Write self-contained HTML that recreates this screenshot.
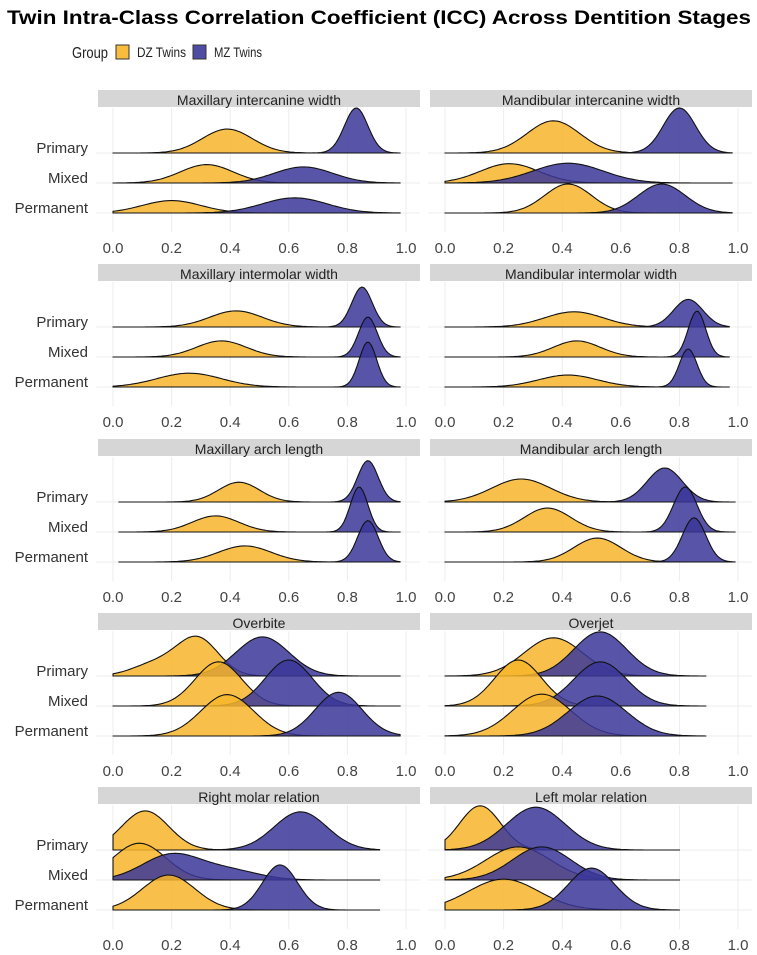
<!DOCTYPE html>
<html><head><meta charset="utf-8"><style>
html,body{margin:0;padding:0;background:#fff;}
svg{display:block;font-family:"Liberation Sans",sans-serif;}
</style></head><body>
<svg id="chart" width="757" height="955" viewBox="0 0 757 955" xmlns="http://www.w3.org/2000/svg">
<text x="379" y="24" text-anchor="middle" font-size="19" font-weight="bold" textLength="744" lengthAdjust="spacingAndGlyphs" fill="#000">Twin Intra-Class Correlation Coefficient (ICC) Across Dentition Stages</text>
<g>
<text x="72" y="58" font-size="16" textLength="36" lengthAdjust="spacingAndGlyphs" fill="#222">Group</text>
<rect x="116" y="45" width="13" height="14" fill="#F9BC3C" stroke="#333" stroke-width="1"/>
<text x="137" y="57" font-size="13.5" textLength="49" lengthAdjust="spacingAndGlyphs" fill="#222">DZ Twins</text>
<rect x="193" y="45" width="13" height="14" fill="#4F4CA3" stroke="#333" stroke-width="1"/>
<text x="214" y="57" font-size="13.5" textLength="48" lengthAdjust="spacingAndGlyphs" fill="#222">MZ Twins</text>
</g>
<g id="panels"></g>
</svg>
<script>
// ---- data ----
const panelTitles = ["Maxillary intercanine width","Mandibular intercanine width","Maxillary intermolar width","Mandibular intermolar width","Maxillary arch length","Mandibular arch length","Overbite","Overjet","Right molar relation","Left molar relation"];
const stages = ["Primary","Mixed","Permanent"];
const groups = ["DZ Twins","MZ Twins"];
const tickValues = [0,0.2,0.4,0.6,0.8,1.0];
const tickLabels = ["0.0","0.2","0.4","0.6","0.8","1.0"];
const panelRanges = [[0,0.98],[0,0.98],[0,0.98],[0,0.97],[0.02,0.98],[0,0.99],[0,0.98],[0,0.89],[0,0.91],[0,0.8]];
// each curve: list of gaussian components [mean, sd, relative height]
const dzCurves = [
 [[[0.39,0.085,0.52]],[[0.32,0.09,0.4]],[[0.2,0.1,0.27]]],
 [[[0.37,0.09,0.7]],[[0.22,0.1,0.42]],[[0.42,0.08,0.63]]],
 [[[0.42,0.09,0.35]],[[0.37,0.085,0.35]],[[0.26,0.11,0.3]]],
 [[[0.44,0.1,0.33]],[[0.45,0.08,0.35]],[[0.42,0.1,0.26]]],
 [[[0.43,0.07,0.43]],[[0.35,0.08,0.35]],[[0.45,0.09,0.35]]],
 [[[0.26,0.1,0.5]],[[0.35,0.08,0.52]],[[0.52,0.08,0.52]]],
 [[[0.29,0.07,0.8],[0.15,0.08,0.28]],[[0.36,0.08,0.96]],[[0.39,0.09,0.9]]],
 [[[0.37,0.1,0.83]],[[0.25,0.08,1.0]],[[0.33,0.1,0.91]]],
 [[[0.11,0.08,0.85]],[[0.09,0.09,0.8]],[[0.19,0.09,0.76]]],
 [[[0.12,0.07,0.96]],[[0.25,0.11,0.72]],[[0.2,0.12,0.67]]]
];
const mzCurves = [
 [[[0.83,0.04,0.98]],[[0.65,0.1,0.35]],[[0.62,0.11,0.33]]],
 [[[0.8,0.055,0.98]],[[0.42,0.12,0.43]],[[0.74,0.08,0.63]]],
 [[[0.85,0.035,0.87]],[[0.87,0.032,0.87]],[[0.87,0.03,0.98]]],
 [[[0.83,0.05,0.6]],[[0.86,0.03,1.0]],[[0.83,0.03,0.83]]],
 [[[0.87,0.035,0.9]],[[0.84,0.03,0.98]],[[0.87,0.035,0.9]]],
 [[[0.75,0.06,0.74]],[[0.82,0.04,0.98]],[[0.85,0.04,0.96]]],
 [[[0.51,0.09,0.85]],[[0.6,0.08,1.0]],[[0.77,0.08,0.95]]],
 [[[0.53,0.09,0.96]],[[0.53,0.09,0.96]],[[0.52,0.1,0.87]]],
 [[[0.64,0.09,0.83]],[[0.2,0.1,0.55],[0.4,0.1,0.2]],[[0.57,0.06,0.98]]],
 [[[0.31,0.1,0.93]],[[0.33,0.1,0.72]],[[0.5,0.08,0.91]]]
];
// ---- layout ----
const NS="http://www.w3.org/2000/svg";
const root=document.getElementById('panels');
const colX0=[113,445], colScale=293, stripX=[98,430], stripW=322;
const rowStrip=[100,274,449,623,797];
const baseOff=[53,83,113], H=46;
const fills={"DZ Twins":"#F7B52A","MZ Twins":"#3B3799"};
function mk(tag,attrs,parent){const e=document.createElementNS(NS,tag);for(const k in attrs)e.setAttribute(k,attrs[k]);(parent||root).appendChild(e);return e;}
function dens(comps,v){let s=0;for(const c of comps){s+=c[2]*Math.exp(-0.5*Math.pow((v-c[0])/c[1],2));}return s;}
panelTitles.forEach((title,p)=>{
  const col=p%2,row=Math.floor(p/2);
  const sx=v=>colX0[col]+v*colScale;
  const cy=rowStrip[row];
  const g=mk('g',{});
  
  
  tickValues.forEach((t,i)=>{
    const l=mk('line',{x1:sx(t),x2:sx(t),y1:cy+8,y2:cy+132,stroke:'#ececec','stroke-width':1},g);
    
    
    const tx=mk('text',{x:sx(t),y:cy+153,'text-anchor':'middle','font-size':15,fill:'#444'},g);
    
    
    tx.textContent=tickLabels[i];
  });
  stages.forEach((s,si)=>{
    const by=cy+baseOff[si];
    const l=mk('line',{x1:stripX[col]-2,x2:stripX[col]+stripW,y1:by,y2:by,stroke:'#ececec','stroke-width':1},g);
    
    
    if(col===0){
      const t=mk('text',{x:88,y:by,'text-anchor':'end','font-size':15,fill:'#333'},g);
      
      
      t.textContent=s;
    }
  });
  const sr=mk('rect',{x:stripX[col],y:cy-10,width:stripW,height:17,fill:'#d6d6d6'},g);
  
  
  const st=mk('text',{x:stripX[col]+stripW/2,y:cy+5,'text-anchor':'middle','font-size':14,fill:'#222'},g);
  
  
  st.textContent=title;
  const [r0,r1]=panelRanges[p];
  stages.forEach((s,si)=>{
    const by=cy+baseOff[si];
    [dzCurves,mzCurves].forEach((set,gi)=>{
      const comps=set[p][si];
      let d='M'+sx(r0).toFixed(1)+','+by;
      const N=120;
      for(let k=0;k<=N;k++){const v=r0+(r1-r0)*k/N;d+=' L'+sx(v).toFixed(1)+','+(by-H*dens(comps,v)).toFixed(1);}
      d+=' L'+sx(r1).toFixed(1)+','+by+' Z';
      const path=mk('path',{d:d,fill:fills[groups[gi]],'fill-opacity':0.85,stroke:'#111','stroke-width':1.1,'stroke-linejoin':'round'},g);
      
      
    });
  });
});
</script>
</body></html>
